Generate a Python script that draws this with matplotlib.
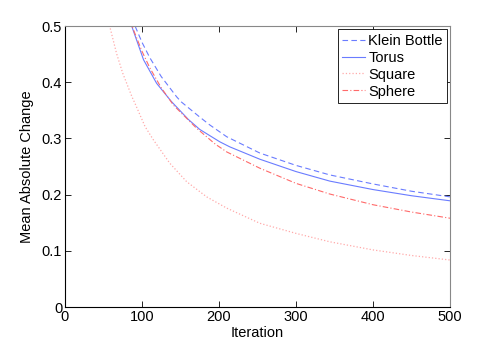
import numpy as np
import matplotlib
matplotlib.use("Agg")
import matplotlib.pyplot as plt

plt.rcParams['font.family'] = ['Liberation Sans', 'DejaVu Sans']

# values
klein_x = [85, 91, 100, 110, 125, 145, 151, 175, 188, 210, 253, 300, 344, 400, 450, 500]
klein_y = [0.53, 0.50, 0.471, 0.444, 0.41, 0.374, 0.365, 0.338, 0.324, 0.303, 0.274, 0.252, 0.235, 0.219, 0.206, 0.196]

torus_x = [80, 86.6, 102, 119, 138, 160, 175, 201, 214, 253, 300, 344, 400, 450, 500]
torus_y = [0.53, 0.50, 0.44, 0.398, 0.366, 0.334, 0.316, 0.294, 0.285, 0.263, 0.241, 0.224, 0.209, 0.198, 0.189]

square_x = [50, 58, 67, 75, 87, 91, 104, 115, 136, 158, 184, 210, 253, 300, 344, 400, 450, 500]
square_y = [0.57, 0.50, 0.451, 0.416, 0.374, 0.362, 0.321, 0.297, 0.256, 0.223, 0.196, 0.176, 0.149, 0.131, 0.116, 0.1016, 0.0917, 0.0836]

sphere_x = [80, 87, 100, 110, 125, 141, 171, 195, 210, 253, 300, 344, 400, 450, 500]
sphere_y = [0.53, 0.50, 0.455, 0.426, 0.39, 0.359, 0.318, 0.29, 0.276, 0.247, 0.22, 0.201, 0.182, 0.169, 0.158]

blue = '#6a7cff'
red = '#ff6a6a'

fig = plt.figure(figsize=(4.98, 3.46), dpi=100)
ax = fig.add_axes([0.1305, 0.1127, 0.7731, 0.8121])

ax.plot(klein_x, klein_y, '--', color=blue, lw=0.8, dashes=(5, 3), label='Klein Bottle')
ax.plot(torus_x, torus_y, '-', color=blue, lw=0.8, label='Torus')
ax.plot(square_x, square_y, ':', color='#ffaaaa', lw=0.9, label='Square')
ax.plot(sphere_x, sphere_y, '-.', color=red, lw=0.8, dashes=(5, 2, 1, 2), label='Sphere')

ax.set_xlim(0, 500)
ax.set_ylim(0, 0.5)
ax.set_xticks([0, 100, 200, 300, 400, 500])
ax.set_yticks([0, 0.1, 0.2, 0.3, 0.4, 0.5])
ax.set_yticklabels(['0', '0.1', '0.2', '0.3', '0.4', '0.5'])
ax.tick_params(direction='in', length=4, width=0.6, top=True, right=True, labelsize=10.5, pad=2)
for s in ax.spines.values():
    s.set_linewidth(0.8)
ax.spines['top'].set_color('#888888')
ax.spines['right'].set_color('#888888')

ax.set_xlabel('Iteration', fontsize=10.5, labelpad=1.5)
ax.set_ylabel('Mean Absolute Change', fontsize=10.5, labelpad=6)

leg = ax.legend(loc='upper right', bbox_to_anchor=(0.9925, 0.988), fontsize=10.5,
                frameon=True, fancybox=False, edgecolor='black', framealpha=1,
                handlelength=1.6, handletextpad=0.2, borderpad=0.3, labelspacing=0.2,
                borderaxespad=0)
leg.get_frame().set_linewidth(0.6)

fig.savefig('out.png', dpi=100)
